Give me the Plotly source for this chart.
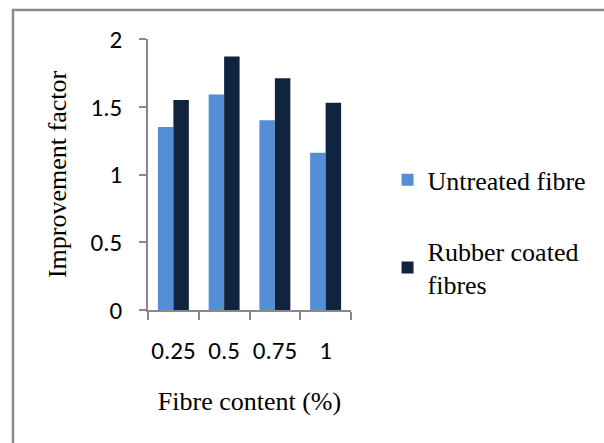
import plotly.graph_objects as go

# Fibre content categories (%) and improvement factors for each fibre type
fibre_content = ["0.25", "0.5", "0.75", "1"]
untreated = [1.35, 1.59, 1.40, 1.16]
rubber_coated = [1.55, 1.87, 1.71, 1.53]

series_names = ["Untreated fibre", "Rubber coated<br>fibres"]
series_colors = ["#558ED5", "#10243F"]

y_ticks = [0, 0.5, 1, 1.5, 2]
y_tick_text = ["0", "0.5", "1", "1.5", "2"]

serif = "Liberation Serif, Times New Roman, serif"
sans = "Carlito, Lato, Open Sans, sans-serif"
axis_grey = "#898989"

fig = go.Figure()
for name, vals, col in zip(series_names, [untreated, rubber_coated], series_colors):
    fig.add_trace(go.Bar(
        x=fibre_content, y=vals, name=name, legendgroup=name,
        marker=dict(color=col, line=dict(width=0)),
    ))

plot_l, plot_r, plot_t, plot_b = 148, 244, 39, 133
plot_w = 604 - plot_l - plot_r
plot_h = 443 - plot_t - plot_b

fig.update_layout(
    width=604, height=443,
    margin=dict(l=plot_l, r=plot_r, t=plot_t, b=plot_b),
    paper_bgcolor="white", plot_bgcolor="white",
    barmode="group", bargap=0.39, bargroupgap=0,
    showlegend=True,
    legend=dict(
        x=1.18, xanchor="left", y=0.567, yanchor="top",
        font=dict(family=serif, size=26, color="black"),
        tracegroupgap=34, bgcolor="rgba(0,0,0,0)",
        itemclick=False,
    ),
    xaxis=dict(
        type="category", automargin=False, tickangle=0,
        showline=True, linecolor=axis_grey, linewidth=1.5,
        ticks="outside", tickson="boundaries", ticklen=8, tickcolor=axis_grey, tickwidth=1.5,
        tickfont=dict(family=sans, size=25, color="black"),
        ticklabelstandoff=17,
        showgrid=False, zeroline=False,
        title=dict(text="Fibre content (%)", font=dict(family=serif, size=26, color="black"), standoff=27),
    ),
    yaxis=dict(
        range=[0, 2], automargin=False,
        tickvals=y_ticks, ticktext=y_tick_text,
        showline=True, linecolor=axis_grey, linewidth=1.5,
        ticks="outside", ticklen=7, tickcolor=axis_grey, tickwidth=1.5,
        tickfont=dict(family=sans, size=25, color="black"),
        ticklabelstandoff=12,
        showgrid=False, zeroline=False,
        title=dict(text="Improvement factor", font=dict(family=serif, size=26, color="black"), standoff=16),
    ),
    # Outer frame: top edge at 10 px, left edge at 7 px; right/bottom run past the canvas
    shapes=[dict(
        type="rect", xref="paper", yref="paper",
        x0=-(plot_l - 7) / plot_w, x1=1 + (plot_r + 30) / plot_w,
        y0=-(plot_b + 30) / plot_h, y1=1 + (plot_t - 10) / plot_h,
        line=dict(color="#8C8C8C", width=2.5), fillcolor="rgba(0,0,0,0)", layer="below",
    )],
)

fig.write_html("out.html")
